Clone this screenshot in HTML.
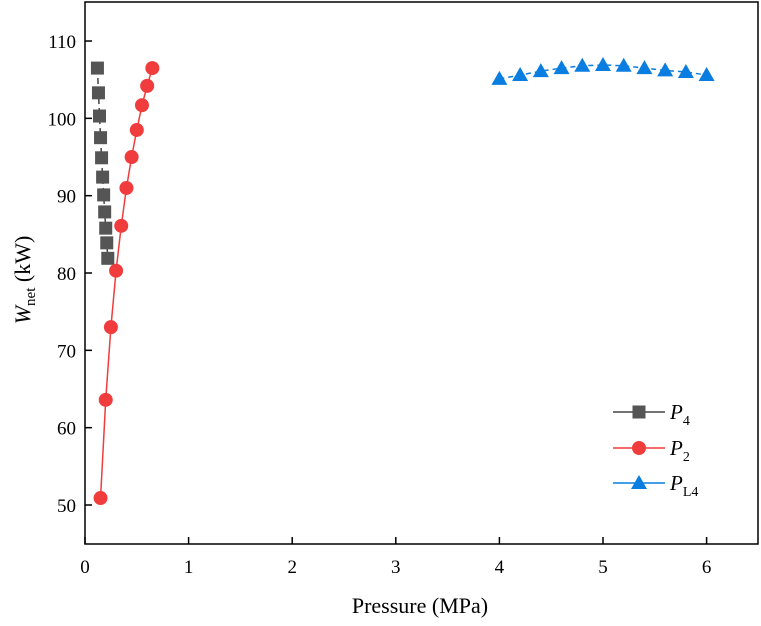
<!DOCTYPE html>
<html><head><meta charset="utf-8"><style>
body{margin:0;background:#fff;}
svg{display:block;font-family:"Liberation Serif",serif;}
</style></head><body>
<svg id="chart" width="761" height="626" viewBox="0 0 761 626"></svg>
<script>
const xTicks=[0,1,2,3,4,5,6];
const yTicks=[50,60,70,80,90,100,110];
const p4X=[0.12,0.13,0.14,0.15,0.16,0.17,0.18,0.19,0.20,0.21,0.22];
const p4Y=[106.5,103.3,100.3,97.5,94.9,92.4,90.1,87.9,85.8,83.9,81.9];
const p2X=[0.15,0.2,0.25,0.3,0.35,0.4,0.45,0.5,0.55,0.6,0.65];
const p2Y=[50.9,63.6,73.0,80.3,86.1,91.0,95.0,98.5,101.7,104.2,106.5];
const pl4X=[4,4.2,4.4,4.6,4.8,5,5.2,5.4,5.6,5.8,6];
const pl4Y=[105.1,105.6,106.1,106.5,106.8,106.9,106.8,106.5,106.2,106.0,105.6];
const NS='http://www.w3.org/2000/svg';
const svg=document.getElementById('chart');
const L=85,R=758,T=2,B=544;
const sx=v=>L+v*103.6;
const sy=v=>505-(v-50)*7.733;
function el(t,a,p){const e=document.createElementNS(NS,t);for(const k in a)e.setAttribute(k,a[k]);(p||svg).appendChild(e);return e;}
let frame=el('rect',{x:L,y:T,width:R-L,height:B-T,fill:'none',stroke:'#000','stroke-width':1.5});


xTicks.forEach(v=>{
  let t=el('line',{x1:sx(v),x2:sx(v),y1:B,y2:B-7,stroke:'#000','stroke-width':1.5});
  
  
  let tx=el('text',{x:sx(v),y:B+29,'text-anchor':'middle','font-size':19});tx.textContent=v;
  
  
});
yTicks.forEach(v=>{
  let t=el('line',{x1:L,x2:L+7,y1:sy(v),y2:sy(v),stroke:'#000','stroke-width':1.5});
  
  
  let tx=el('text',{x:L-9,y:sy(v)+7,'text-anchor':'end','font-size':19});tx.textContent=v;
  
  
});
let xt=el('text',{x:420,y:613,'text-anchor':'middle','font-size':22});xt.textContent='Pressure (MPa)';


let yt=el('text',{transform:'translate(30,280) rotate(-90)','text-anchor':'middle','font-size':22});
yt.innerHTML='<tspan font-style="italic">W</tspan><tspan font-size="15" dy="5">net</tspan><tspan dy="-5"> (kW)</tspan>';


function marker(type,x,y,color,g){
  if(type==='sq')return el('rect',{x:x-6.5,y:y-6.5,width:13,height:13,fill:color},g);
  if(type==='ci')return el('circle',{cx:x,cy:y,r:7,fill:color},g);
  return el('polygon',{points:`${x},${y-8} ${x+8},${y+6} ${x-8},${y+6}`,fill:color},g);
}
const series=[
 {name:'p4',xs:p4X,ys:p4Y,c:'#555555',lc:'#444',m:'sq',dash:'6,4'},
 {name:'p2',xs:p2X,ys:p2Y,c:'#f03c3c',lc:'#f03c3c',m:'ci',dash:''},
 {name:'pl4',xs:pl4X,ys:pl4Y,c:'#0a7ee0',lc:'#0a7ee0',m:'tr',dash:'5,4'}
];
series.forEach(s=>{
  const g=el('g',{});
  
  
  const pts=s.xs.map((x,i)=>sx(x)+','+sy(s.ys[i])).join(' ');
  const pl=el('polyline',{points:pts,fill:'none',stroke:s.lc,'stroke-width':1.5,'stroke-dasharray':s.dash},g);
  
  
  s.xs.forEach((x,i)=>{
    const m=marker(s.m,sx(x),sy(s.ys[i]),s.c,g);
    
    
  });
});
const leg=[['P','4','#444','#555','sq',412],['P','2','#f03c3c','#f03c3c','ci',448],['P','L4','#0a7ee0','#0a7ee0','tr',483]];
leg.forEach(l=>{
  const g=el('g',{});
  
  
  el('line',{x1:613,x2:665,y1:l[5],y2:l[5],stroke:l[2],'stroke-width':1.5},g);
  marker(l[4],639,l[5],l[3],g);
  const t=el('text',{x:670,y:l[5]+7,'font-size':21},g);
  t.innerHTML='<tspan font-style="italic">'+l[0]+'</tspan><tspan font-size="14" dy="6">'+l[1]+'</tspan>';
});
</script>
</body></html>
